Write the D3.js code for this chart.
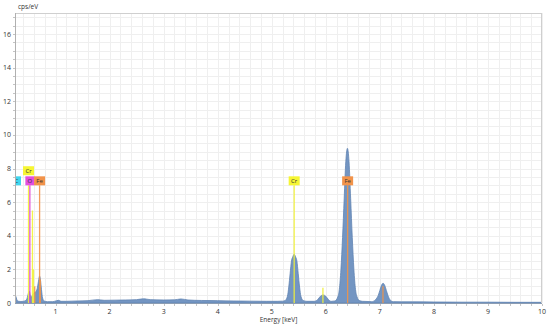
<!DOCTYPE html>
<html>
<head>
<meta charset="utf-8">
<script src="https://cdn.jsdelivr.net/npm/d3@7"></script>
<style>
  html, body { margin: 0; padding: 0; background: #fff; }
  svg { display: block; font-family: "Open Sans", "Liberation Sans", sans-serif; }
</style>
</head>
<body>
<script>
// Spectrum: energy [keV] and counts [cps/eV]
const energy = [
  0.25, 0.27, 0.29, 0.32, 0.36, 0.40, 0.44, 0.47, 0.50, 0.515, 0.53, 0.55, 0.57, 0.60, 0.63, 0.66, 0.685, 0.705, 0.72, 0.74, 0.76, 0.79, 0.85, 0.95,
  1.02, 1.06, 1.10, 1.2, 1.4, 1.6, 1.78, 1.9, 2.1, 2.3, 2.5, 2.63, 2.75, 3.0, 3.2, 3.32, 3.45, 3.7, 4.0, 4.3, 4.6, 4.9, 5.1,
  5.2, 5.25, 5.29, 5.315, 5.34, 5.365, 5.39, 5.415, 5.44, 5.465, 5.49, 5.515, 5.54, 5.58, 5.65,
  5.78, 5.85, 5.9, 5.95, 6.0, 6.05, 6.1,
  6.17, 6.22, 6.25, 6.28, 6.31, 6.34, 6.37, 6.40, 6.43, 6.46, 6.49, 6.52, 6.55, 6.58, 6.62, 6.68,
  6.85, 6.92, 6.97, 7.0, 7.03, 7.06, 7.09, 7.12, 7.15, 7.19, 7.25,
  7.4, 7.6, 8.0, 8.5, 9.0, 9.5, 10.0
];
const cps = [
  0.5, 0.35, 0.15, 0.1, 0.09, 0.1, 0.14, 0.25, 0.6, 0.7, 0.5, 0.35, 0.45, 0.6, 0.65, 0.85, 1.3, 1.6, 1.4, 0.8, 0.3, 0.12, 0.08, 0.08,
  0.14, 0.16, 0.1, 0.1, 0.12, 0.14, 0.2, 0.16, 0.17, 0.18, 0.2, 0.25, 0.2, 0.18, 0.19, 0.24, 0.18, 0.15, 0.14, 0.12, 0.11, 0.1, 0.1,
  0.11, 0.15, 0.4, 0.95, 1.75, 2.5, 2.75, 2.9, 2.75, 2.5, 1.75, 0.95, 0.4, 0.15, 0.1,
  0.1, 0.2, 0.4, 0.48, 0.4, 0.2, 0.1,
  0.12, 0.35, 0.8, 2.0, 3.9, 6.2, 8.4, 9.2, 8.4, 6.2, 3.9, 2.0, 0.8, 0.35, 0.15, 0.1,
  0.08, 0.2, 0.45, 0.75, 1.05, 1.17, 1.05, 0.75, 0.45, 0.18, 0.08,
  0.07, 0.07, 0.06, 0.05, 0.05, 0.04, 0.04
];

// Element line markers: energy, marker height, colour
const markerEnergy = [0.500, 0.525, 0.573, 0.592, 0.615, 0.705, 0.718, 5.415, 5.947, 6.404, 7.058];
const markerHeight = [7.0, 7.0, 5.5, 2.0, 1.0, 7.0, 1.4, 7.0, 0.9, 7.0, 1.0];
const markerColor = ["#f2f23a", "#e047d8", "#f2f23a", "#f2f23a", "#f0944a", "#f0944a", "#f0944a", "#f2f23a", "#f2f23a", "#f0944a", "#f0944a"];

// Element labels
const labelText = ["C", "Cr", "O", "Fe", "Cr", "Fe"];
const labelEnergy = [0.277, 0.500, 0.525, 0.705, 5.415, 6.404];
const labelLevel = [7.0, 7.6, 7.0, 7.0, 7.0, 7.0];
const labelColor = ["#3fd6ee", "#f6f633", "#e24ee0", "#f2934a", "#f6f633", "#f2934a"];

const xTicks = [1, 2, 3, 4, 5, 6, 7, 8, 9, 10];
const yTicks = [0, 2, 4, 6, 8, 10, 12, 14, 16];

const width = 550, height = 327;
const margin = {top: 13, right: 8, bottom: 24, left: 15};

const x = d3.scaleLinear().domain([0.25, 10]).range([margin.left, width - margin.right]);
const y = d3.scaleLinear().domain([0, 17.25]).range([height - margin.bottom, margin.top]);

const svg = d3.select("body").append("svg")
  .attr("width", width)
  .attr("height", height);

svg.append("defs").append("clipPath").attr("id", "plot")
  .append("rect")
  .attr("x", margin.left).attr("y", margin.top)
  .attr("width", width - margin.left - margin.right)
  .attr("height", height - margin.top - margin.bottom);

// Grid
const xGrid = d3.range(0.4, 10.0001, 0.2);
const yGrid = d3.range(0.5, 17.25, 0.5);
const grid = svg.append("g").attr("stroke", "#efefef").attr("stroke-width", 1);
grid.selectAll(".gx").data(xGrid).join("line")
  .attr("x1", d => Math.round(x(d)) + 0.5).attr("x2", d => Math.round(x(d)) + 0.5)
  .attr("y1", y(0)).attr("y2", margin.top);
grid.selectAll(".gy").data(yGrid).join("line")
  .attr("y1", d => Math.round(y(d)) + 0.5).attr("y2", d => Math.round(y(d)) + 0.5)
  .attr("x1", margin.left).attr("x2", width - margin.right);

// Spectrum
const spectrum = energy.map((e, i) => ({e, c: cps[i]}));
const plot = svg.append("g").attr("clip-path", "url(#plot)");

plot.append("path")
  .datum(spectrum)
  .attr("fill", "#7395c2")
  .attr("stroke", "#6184b2")
  .attr("stroke-width", 0.8)
  .attr("d", d3.area()
    .x(d => x(d.e))
    .y0(y(0))
    .y1(d => y(d.c))
    .curve(d3.curveMonotoneX));

// Marker lines
plot.append("g")
  .selectAll("line")
  .data(markerEnergy)
  .join("line")
  .attr("x1", d => x(d)).attr("x2", d => x(d))
  .attr("y1", y(0))
  .attr("y2", (d, i) => y(markerHeight[i]))
  .attr("stroke", (d, i) => markerColor[i])
  .attr("stroke-width", 1.3)
  .attr("opacity", 0.9);

// Element labels
const lab = plot.append("g")
  .selectAll("g")
  .data(labelText)
  .join("g")
  .attr("transform", (d, i) => `translate(${x(labelEnergy[i])},${y(labelLevel[i])})`);
lab.append("rect")
  .attr("x", d => d.length > 1 ? -5.5 : -4.5)
  .attr("y", -9)
  .attr("width", d => d.length > 1 ? 11 : 9)
  .attr("height", 9)
  .attr("fill", (d, i) => labelColor[i]);
lab.append("text")
  .attr("y", -2.3)
  .attr("text-anchor", "middle")
  .attr("font-size", 6)
  .attr("fill", "#333")
  .text(d => d);

// Frame
svg.append("rect")
  .attr("x", margin.left + 0.5).attr("y", margin.top + 0.5)
  .attr("width", width - margin.left - margin.right - 1)
  .attr("height", height - margin.top - margin.bottom)
  .attr("fill", "none")
  .attr("stroke", "#cfcfcf");
svg.append("line")
  .attr("x1", margin.left).attr("x2", width - margin.right)
  .attr("y1", y(0) + 0.5).attr("y2", y(0) + 0.5)
  .attr("stroke", "#8c9db3");
svg.append("line")
  .attr("x1", margin.left + 0.5).attr("x2", margin.left + 0.5)
  .attr("y1", margin.top).attr("y2", y(0))
  .attr("stroke", "#b0b0b0");

// Axis ticks
const ticks = svg.append("g").attr("stroke", "#c4c4c4");
ticks.selectAll(".tx").data(xGrid).join("line")
  .attr("x1", d => Math.round(x(d)) + 0.5).attr("x2", d => Math.round(x(d)) + 0.5)
  .attr("y1", y(0) + 1).attr("y2", y(0) + 3);
ticks.selectAll(".ty").data(yGrid).join("line")
  .attr("y1", d => Math.round(y(d)) + 0.5).attr("y2", d => Math.round(y(d)) + 0.5)
  .attr("x1", margin.left - 2).attr("x2", margin.left);

// Tick labels
svg.append("g")
  .attr("font-size", 7).attr("fill", "#333").attr("text-anchor", "middle")
  .selectAll("text").data(xTicks).join("text")
  .attr("x", d => x(d)).attr("y", y(0) + 11)
  .text(d => d);
svg.append("g")
  .attr("font-size", 7).attr("fill", "#333").attr("text-anchor", "end")
  .selectAll("text").data(yTicks).join("text")
  .attr("x", margin.left - 4).attr("y", d => y(d) + 2.5)
  .text(d => d);

// Axis titles
svg.append("text")
  .attr("x", margin.left + 3).attr("y", 9)
  .attr("font-size", 6.5).attr("fill", "#333")
  .text("cps/eV");
svg.append("text")
  .attr("x", (margin.left + width - margin.right) / 2).attr("y", 322)
  .attr("font-size", 6.5).attr("fill", "#333").attr("text-anchor", "middle")
  .text("Energy [keV]");
</script>
</body>
</html>
